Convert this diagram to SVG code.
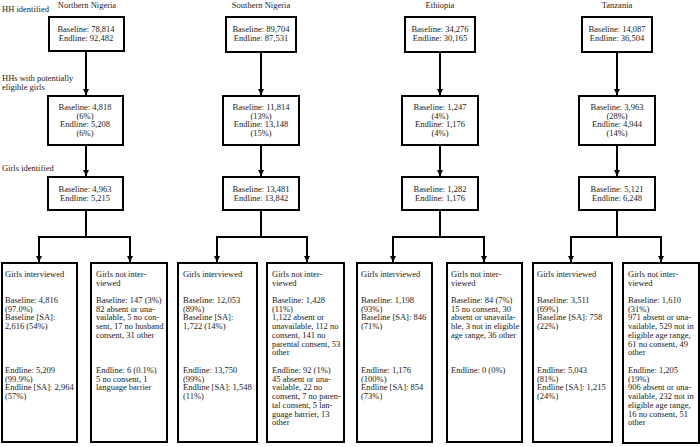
<svg xmlns="http://www.w3.org/2000/svg" width="700" height="447" viewBox="0 0 700 447">
<style>
text{font-family:"Liberation Serif","Times New Roman",serif;font-size:8.5px;fill:#222}
.c{text-anchor:middle}
.b{fill:#fff;stroke:#000;stroke-width:2}
.e{fill:none;stroke:#000;stroke-width:2}
</style>
<defs>
<marker id="ah" viewBox="0 0 10 10" refX="10" refY="5" markerWidth="3" markerHeight="3" orient="auto" markerUnits="strokeWidth">
<path d="M0,0 L10,5 L0,10 z" fill="#000"/>
</marker>
</defs>
<rect width="700" height="447" fill="#fff"/>
<g id="labels">
<text x="2" y="12">HH identified</text>
<text x="2" y="81">HHs with potentially</text>
<text x="2" y="90">eligible girls</text>
<text x="2" y="171">Girls identified</text>
<text class="c" x="87" y="8">Northern Nigeria</text>
<text class="c" x="261" y="8">Southern Nigeria</text>
<text class="c" x="440" y="8">Ethiopia</text>
<text class="c" x="617" y="8">Tanzania</text>
</g>
<g id="connectors">
<path class="e" d="M86,51 V95" marker-end="url(#ah)"/>
<path class="e" d="M86,145 V176" marker-end="url(#ah)"/>
<path class="e" d="M86,210 V237 M39,237 H130"/>
<path class="e" d="M39,236 V262" marker-end="url(#ah)"/>
<path class="e" d="M130,236 V262" marker-end="url(#ah)"/>
<path class="e" d="M261,52 V95" marker-end="url(#ah)"/>
<path class="e" d="M261,145 V176" marker-end="url(#ah)"/>
<path class="e" d="M261,210 V237 M217,237 H307"/>
<path class="e" d="M217,236 V262" marker-end="url(#ah)"/>
<path class="e" d="M307,236 V262" marker-end="url(#ah)"/>
<path class="e" d="M440,52 V95" marker-end="url(#ah)"/>
<path class="e" d="M440,145 V176" marker-end="url(#ah)"/>
<path class="e" d="M440,210 V237 M393,237 H484"/>
<path class="e" d="M393,236 V262" marker-end="url(#ah)"/>
<path class="e" d="M484,236 V262" marker-end="url(#ah)"/>
<path class="e" d="M617,52 V95" marker-end="url(#ah)"/>
<path class="e" d="M617,145 V176" marker-end="url(#ah)"/>
<path class="e" d="M617,210 V237 M571,237 H661"/>
<path class="e" d="M571,236 V262" marker-end="url(#ah)"/>
<path class="e" d="M661,236 V262" marker-end="url(#ah)"/>
</g>
<!-- Northern Nigeria -->
<g id="nn-hh">
<rect class="b" x="49" y="17" width="75" height="34"/>
<text class="c" x="86" y="32">Baseline: 78,814</text>
<text class="c" x="86" y="40.7">Endline: 92,482</text>
</g>
<g id="nn-hhg">
<rect class="b" x="48" y="96" width="75" height="49"/>
<text class="c" x="85" y="110">Baseline: 4,818</text>
<text class="c" x="85" y="118.7">(6%)</text>
<text class="c" x="85" y="127.4">Endline: 5,208</text>
<text class="c" x="85" y="136.1">(6%)</text>
</g>
<g id="nn-girls">
<rect class="b" x="48" y="177" width="75" height="33"/>
<text class="c" x="85" y="192">Baseline: 4,963</text>
<text class="c" x="85" y="200.7">Endline: 5,215</text>
</g>
<g id="nn-int">
<rect class="b" x="2" y="263" width="75" height="179"/>
<text x="5" y="277">Girls interviewed</text>
<text x="5" y="303">Baseline: 4,816</text>
<text x="5" y="311.7">(97.0%)</text>
<text x="5" y="320.4">Baseline [SA]:</text>
<text x="5" y="329.1">2,616 (54%)</text>
<text x="5" y="373">Endline: 5,209</text>
<text x="5" y="381.7">(99.9%)</text>
<text x="5" y="390.4">Endline [SA]: 2,964</text>
<text x="5" y="399.1">(57%)</text>
</g>
<g id="nn-not">
<rect class="b" x="91" y="263" width="76" height="179"/>
<text x="96" y="277">Girls not inter-</text>
<text x="96" y="285.7">viewed</text>
<text x="96" y="303">Baseline: 147 (3%)</text>
<text x="96" y="311.7">82 absent or una-</text>
<text x="96" y="320.4">vailable, 5 no con-</text>
<text x="96" y="329.1">sent, 17 no husband</text>
<text x="96" y="337.8">consent, 31 other</text>
<text x="96" y="373">Endline: 6 (0.1%)</text>
<text x="96" y="381.7">5 no consent, 1</text>
<text x="96" y="390.4">language barrier</text>
</g>
<!-- Southern Nigeria -->
<g id="sn-hh">
<rect class="b" x="226" y="17" width="70" height="35"/>
<text class="c" x="261" y="32">Baseline: 89,704</text>
<text class="c" x="261" y="40.7">Endline: 87,531</text>
</g>
<g id="sn-hhg">
<rect class="b" x="223" y="96" width="76" height="49"/>
<text class="c" x="261" y="110">Baseline: 11,814</text>
<text class="c" x="261" y="118.7">(13%)</text>
<text class="c" x="261" y="127.4">Endline: 13,148</text>
<text class="c" x="261" y="136.1">(15%)</text>
</g>
<g id="sn-girls">
<rect class="b" x="223" y="177" width="76" height="33"/>
<text class="c" x="261" y="192">Baseline: 13,481</text>
<text class="c" x="261" y="200.7">Endline: 13,842</text>
</g>
<g id="sn-int">
<rect class="b" x="178" y="263" width="79" height="179"/>
<text x="183" y="277">Girls interviewed</text>
<text x="183" y="303">Baseline: 12,053</text>
<text x="183" y="311.7">(89%)</text>
<text x="183" y="320.4">Baseline [SA]:</text>
<text x="183" y="329.1">1,722 (14%)</text>
<text x="183" y="373">Endline: 13,750</text>
<text x="183" y="381.7">(99%)</text>
<text x="183" y="390.4">Endline [SA]: 1,548</text>
<text x="183" y="399.1">(11%)</text>
</g>
<g id="sn-not">
<rect class="b" x="267" y="263" width="77" height="179"/>
<text x="272" y="277">Girls not inter-</text>
<text x="272" y="285.7">viewed</text>
<text x="272" y="303">Baseline: 1,428</text>
<text x="272" y="311.7">(11%)</text>
<text x="272" y="320.4">1,122 absent or</text>
<text x="272" y="329.1">unavailable, 112 no</text>
<text x="272" y="337.8">consent, 141 no</text>
<text x="272" y="346.5">parental consent, 53</text>
<text x="272" y="355.2">other</text>
<text x="272" y="373">Endline: 92 (1%)</text>
<text x="272" y="381.7">45 absent or una-</text>
<text x="272" y="390.4">vailable, 22 no</text>
<text x="272" y="399.1">consent, 7 no paren-</text>
<text x="272" y="407.8">tal consent, 5 lan-</text>
<text x="272" y="416.5">guage barrier, 13</text>
<text x="272" y="425.2">other</text>
</g>
<!-- Ethiopia -->
<g id="et-hh">
<rect class="b" x="405" y="17" width="70" height="35"/>
<text class="c" x="440" y="32">Baseline: 34,276</text>
<text class="c" x="440" y="40.7">Endline: 30,165</text>
</g>
<g id="et-hhg">
<rect class="b" x="402" y="96" width="76" height="49"/>
<text class="c" x="440" y="110">Baseline: 1,247</text>
<text class="c" x="440" y="118.7">(4%)</text>
<text class="c" x="440" y="127.4">Endline: 1,176</text>
<text class="c" x="440" y="136.1">(4%)</text>
</g>
<g id="et-girls">
<rect class="b" x="402" y="177" width="76" height="33"/>
<text class="c" x="440" y="192">Baseline: 1,282</text>
<text class="c" x="440" y="200.7">Endline: 1,176</text>
</g>
<g id="et-int">
<rect class="b" x="357" y="263" width="75" height="179"/>
<text x="361" y="277">Girls interviewed</text>
<text x="361" y="303">Baseline: 1,198</text>
<text x="361" y="311.7">(93%)</text>
<text x="361" y="320.4">Baseline [SA]: 846</text>
<text x="361" y="329.1">(71%)</text>
<text x="361" y="373">Endline: 1,176</text>
<text x="361" y="381.7">(100%)</text>
<text x="361" y="390.4">Endline [SA]: 854</text>
<text x="361" y="399.1">(73%)</text>
</g>
<g id="et-not">
<rect class="b" x="447" y="263" width="75" height="179"/>
<text x="451" y="277">Girls not inter-</text>
<text x="451" y="285.7">viewed</text>
<text x="451" y="303">Baseline: 84 (7%)</text>
<text x="451" y="311.7">15 no consent, 30</text>
<text x="451" y="320.4">absent or unavaila-</text>
<text x="451" y="329.1">ble, 3 not in eligible</text>
<text x="451" y="337.8">age range, 36 other</text>
<text x="451" y="373">Endline: 0 (0%)</text>
</g>
<!-- Tanzania -->
<g id="tz-hh">
<rect class="b" x="582" y="17" width="70" height="35"/>
<text class="c" x="617" y="32">Baseline: 14,087</text>
<text class="c" x="617" y="40.7">Endline: 36,504</text>
</g>
<g id="tz-hhg">
<rect class="b" x="579" y="96" width="76" height="49"/>
<text class="c" x="617" y="110">Baseline: 3,963</text>
<text class="c" x="617" y="118.7">(28%)</text>
<text class="c" x="617" y="127.4">Endline: 4,944</text>
<text class="c" x="617" y="136.1">(14%)</text>
</g>
<g id="tz-girls">
<rect class="b" x="579" y="177" width="76" height="33"/>
<text class="c" x="617" y="192">Baseline: 5,121</text>
<text class="c" x="617" y="200.7">Endline: 6,248</text>
</g>
<g id="tz-int">
<rect class="b" x="533" y="263" width="79" height="179"/>
<text x="537" y="277">Girls interviewed</text>
<text x="537" y="303">Baseline: 3,511</text>
<text x="537" y="311.7">(69%)</text>
<text x="537" y="320.4">Baseline [SA]: 758</text>
<text x="537" y="329.1">(22%)</text>
<text x="537" y="373">Endline: 5,043</text>
<text x="537" y="381.7">(81%)</text>
<text x="537" y="390.4">Endline [SA]: 1,215</text>
<text x="537" y="399.1">(24%)</text>
</g>
<g id="tz-not">
<rect class="b" x="623" y="263" width="76" height="180"/>
<text x="628" y="277">Girls not inter-</text>
<text x="628" y="285.7">viewed</text>
<text x="628" y="303">Baseline: 1,610</text>
<text x="628" y="311.7">(31%)</text>
<text x="628" y="320.4">971 absent or una-</text>
<text x="628" y="329.1">vailable, 529 not in</text>
<text x="628" y="337.8">eligible age range,</text>
<text x="628" y="346.5">61 no consent, 49</text>
<text x="628" y="355.2">other</text>
<text x="628" y="373">Endline: 1,205</text>
<text x="628" y="381.7">(19%)</text>
<text x="628" y="390.4">906 absent or una-</text>
<text x="628" y="399.1">vailable, 232 not in</text>
<text x="628" y="407.8">eligible age range,</text>
<text x="628" y="416.5">16 no consent, 51</text>
<text x="628" y="425.2">other</text>
</g>
</svg>
